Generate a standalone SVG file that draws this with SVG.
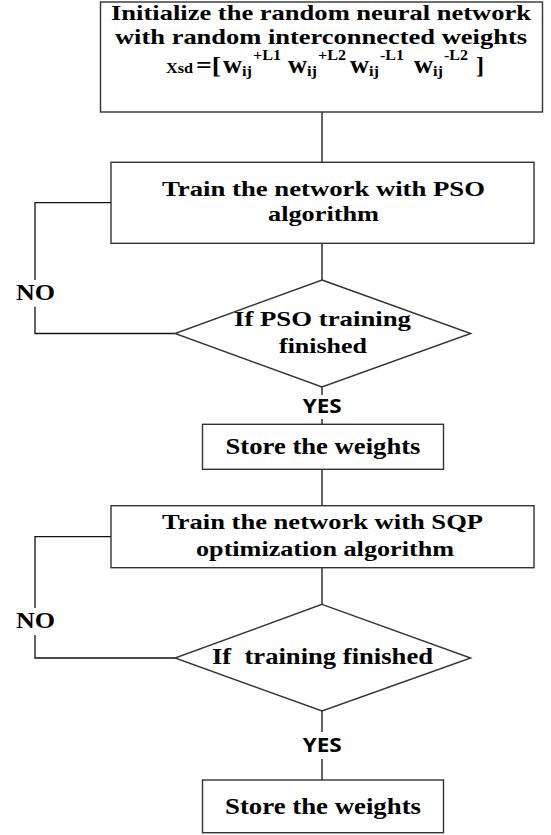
<svg xmlns="http://www.w3.org/2000/svg" width="551" height="835" viewBox="0 0 551 835">
<style>
.box{fill:#fff;stroke:#333;stroke-width:1.4}
.con{fill:none;stroke:#111;stroke-width:1.3}
.t{font-family:"Liberation Serif","Times New Roman",serif;font-weight:bold;fill:#000}
.s{font-family:"Open Sans","DejaVu Sans",sans-serif;font-weight:bold;fill:#000}
</style>
<rect width="551" height="835" fill="#fff"/>
<g id="connectors">
<line class="con" x1="322" y1="112" x2="322" y2="162"/>
<line class="con" x1="322" y1="243" x2="322" y2="280"/>
<polyline class="con" points="111,202.7 35,202.7 35,280"/>
<polyline class="con" points="35,306.7 35,333.5 175,333.5"/>
<line class="con" x1="322" y1="387" x2="322" y2="395"/>
<line class="con" x1="322" y1="419" x2="322" y2="424"/>
<line class="con" x1="322" y1="469" x2="322" y2="506"/>
<line class="con" x1="322" y1="568" x2="322" y2="604.3"/>
<polyline class="con" points="111,536.7 35,536.7 35,608"/>
<polyline class="con" points="35,635 35,658 175,658"/>
<line class="con" x1="322" y1="711" x2="322" y2="732"/>
<line class="con" x1="322" y1="759" x2="322" y2="780"/>
<text class="t" x="16" y="300" font-size="23" textLength="39" lengthAdjust="spacingAndGlyphs">NO</text>
<text class="t" x="16" y="628" font-size="23" textLength="39" lengthAdjust="spacingAndGlyphs">NO</text>
<text class="s" x="302.7" y="412.7" font-size="20" textLength="39" lengthAdjust="spacingAndGlyphs">YES</text>
<text class="s" x="302.7" y="752.3" font-size="20" textLength="39" lengthAdjust="spacingAndGlyphs">YES</text>
</g>
<g id="init">
<rect class="box" x="100.5" y="2" width="442" height="110"/>
<text class="t" x="111" y="20" font-size="21" textLength="420" lengthAdjust="spacingAndGlyphs">Initialize the random neural network</text>
<text class="t" x="115" y="44" font-size="21" textLength="412" lengthAdjust="spacingAndGlyphs">with random interconnected weights</text>
<g class="t">
<text x="166" y="73" font-size="14" textLength="27" lengthAdjust="spacingAndGlyphs">Xsd</text>
<text x="196" y="73" font-size="24" textLength="25" lengthAdjust="spacingAndGlyphs">=[</text>
<text x="223" y="73" font-size="25" textLength="19" lengthAdjust="spacingAndGlyphs">w</text>
<text x="242" y="76" font-size="14" textLength="10" lengthAdjust="spacingAndGlyphs">ij</text>
<text x="253" y="60" font-size="14" textLength="28" lengthAdjust="spacingAndGlyphs">+L1</text>
<text x="288" y="73" font-size="25" textLength="19" lengthAdjust="spacingAndGlyphs">w</text>
<text x="307" y="76" font-size="14" textLength="10" lengthAdjust="spacingAndGlyphs">ij</text>
<text x="318" y="60" font-size="14" textLength="28" lengthAdjust="spacingAndGlyphs">+L2</text>
<text x="350" y="73" font-size="25" textLength="19" lengthAdjust="spacingAndGlyphs">w</text>
<text x="369" y="76" font-size="14" textLength="10" lengthAdjust="spacingAndGlyphs">ij</text>
<text x="380" y="60" font-size="14" textLength="24" lengthAdjust="spacingAndGlyphs">-L1</text>
<text x="414" y="73" font-size="25" textLength="19" lengthAdjust="spacingAndGlyphs">w</text>
<text x="433" y="76" font-size="14" textLength="10" lengthAdjust="spacingAndGlyphs">ij</text>
<text x="444" y="60" font-size="14" textLength="24" lengthAdjust="spacingAndGlyphs">-L2</text>
<text x="476" y="73" font-size="24" textLength="8" lengthAdjust="spacingAndGlyphs">]</text>
</g>
</g>
<g id="train-pso">
<rect class="box" x="111" y="162.3" width="423" height="81"/>
<text class="t" x="162" y="196" font-size="22" textLength="323" lengthAdjust="spacingAndGlyphs">Train the network with PSO</text>
<text class="t" x="268" y="221" font-size="22" textLength="111" lengthAdjust="spacingAndGlyphs">algorithm</text>
</g>
<g id="check-pso">
<polygon class="box" points="322,280 470.7,333.5 322,387 175,333.5"/>
<text class="t" x="234" y="326" font-size="22" textLength="177" lengthAdjust="spacingAndGlyphs">If PSO training</text>
<text class="t" x="279" y="353" font-size="22" textLength="88" lengthAdjust="spacingAndGlyphs">finished</text>
</g>
<g id="store1">
<rect class="box" x="202.5" y="424.3" width="241" height="45"/>
<text class="t" x="225.5" y="453.5" font-size="24" textLength="195" lengthAdjust="spacingAndGlyphs">Store the weights</text>
</g>
<g id="train-sqp">
<rect class="box" x="111" y="505.7" width="423" height="62"/>
<text class="t" x="162" y="529" font-size="22" textLength="321" lengthAdjust="spacingAndGlyphs">Train the network with SQP</text>
<text class="t" x="196" y="556" font-size="22" textLength="258" lengthAdjust="spacingAndGlyphs">optimization algorithm</text>
</g>
<g id="check-sqp">
<polygon class="box" points="322,604.3 470.7,658 322,711 175,658"/>
<text class="t" x="212" y="664" font-size="24" textLength="221" lengthAdjust="spacingAndGlyphs" xml:space="preserve">If  training finished</text>
</g>
<g id="store2">
<rect class="box" x="202.5" y="780" width="241" height="52.7"/>
<text class="t" x="225" y="813.5" font-size="24" textLength="196" lengthAdjust="spacingAndGlyphs">Store the weights</text>
</g>
</svg>
